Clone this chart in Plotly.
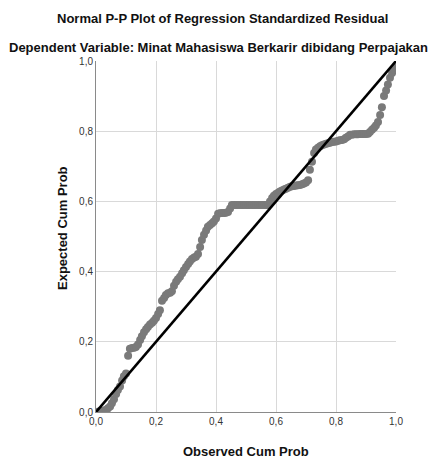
import plotly.graph_objects as go

# Observed cumulative probability (x) and expected cumulative probability (y)
observed_cum_prob = [
    0.007, 0.013, 0.020, 0.027, 0.033, 0.040, 0.047, 0.053, 0.060, 0.067,
    0.073, 0.080, 0.087, 0.093, 0.100, 0.107, 0.113, 0.120, 0.127, 0.133,
    0.140, 0.147, 0.153, 0.160, 0.167, 0.173, 0.180, 0.187, 0.193, 0.200,
    0.207, 0.213, 0.220, 0.227, 0.233, 0.240, 0.247, 0.253, 0.260, 0.267,
    0.273, 0.280, 0.287, 0.293, 0.300, 0.307, 0.313, 0.320, 0.327, 0.333,
    0.340, 0.347, 0.353, 0.360, 0.367, 0.373, 0.380, 0.387, 0.393, 0.400,
    0.407, 0.413, 0.420, 0.427, 0.433, 0.440, 0.447, 0.453, 0.460, 0.467,
    0.473, 0.480, 0.487, 0.493, 0.500, 0.507, 0.513, 0.520, 0.527, 0.533,
    0.540, 0.547, 0.553, 0.560, 0.567, 0.573, 0.580, 0.587, 0.593, 0.600,
    0.607, 0.613, 0.620, 0.627, 0.633, 0.640, 0.647, 0.653, 0.660, 0.667,
    0.673, 0.680, 0.687, 0.693, 0.700, 0.707, 0.713, 0.720, 0.727, 0.733,
    0.740, 0.747, 0.753, 0.760, 0.767, 0.773, 0.780, 0.787, 0.793, 0.800,
    0.807, 0.813, 0.820, 0.827, 0.833, 0.840, 0.847, 0.853, 0.860, 0.867,
    0.873, 0.880, 0.887, 0.893, 0.900, 0.907, 0.913, 0.920, 0.927, 0.933,
    0.940, 0.947, 0.953, 0.960, 0.967, 0.973, 0.980, 0.987, 0.993, 1.000,
]
expected_cum_prob = [
    0.001, 0.002, 0.003, 0.004, 0.006, 0.011, 0.016, 0.025, 0.036, 0.051,
    0.063, 0.073, 0.090, 0.102, 0.110, 0.160, 0.180, 0.182, 0.183, 0.185,
    0.192, 0.205, 0.216, 0.227, 0.236, 0.242, 0.249, 0.254, 0.260, 0.268,
    0.279, 0.290, 0.317, 0.325, 0.333, 0.338, 0.340, 0.344, 0.360, 0.371,
    0.378, 0.385, 0.395, 0.404, 0.413, 0.422, 0.429, 0.436, 0.440, 0.442,
    0.450, 0.470, 0.490, 0.505, 0.517, 0.528, 0.533, 0.538, 0.543, 0.551,
    0.565, 0.566, 0.567, 0.567, 0.568, 0.570, 0.580, 0.590, 0.590, 0.590,
    0.590, 0.590, 0.590, 0.590, 0.590, 0.590, 0.590, 0.590, 0.590, 0.590,
    0.590, 0.590, 0.590, 0.590, 0.590, 0.590, 0.600, 0.610, 0.616, 0.621,
    0.625, 0.628, 0.631, 0.634, 0.636, 0.639, 0.642, 0.643, 0.644, 0.645,
    0.646, 0.647, 0.649, 0.651, 0.654, 0.660, 0.690, 0.713, 0.738, 0.748,
    0.753, 0.757, 0.760, 0.762, 0.764, 0.766, 0.767, 0.769, 0.770, 0.771,
    0.773, 0.774, 0.775, 0.777, 0.781, 0.785, 0.790, 0.790, 0.791, 0.791,
    0.791, 0.792, 0.792, 0.792, 0.792, 0.793, 0.798, 0.804, 0.810, 0.816,
    0.826, 0.846, 0.868, 0.900, 0.916, 0.933, 0.952, 0.966, 0.975, 0.982,
]
reference_line = [0.0, 1.0]
tick_values = [0.0, 0.2, 0.4, 0.6, 0.8, 1.0]

FONT = "Liberation Sans, Arial, sans-serif"

fig = go.Figure()
fig.add_trace(go.Scatter(
    x=observed_cum_prob, y=expected_cum_prob, mode="markers",
    marker=dict(color="#7a7a7a", size=8, line=dict(width=0)),
    showlegend=False, hoverinfo="skip",
))
fig.add_trace(go.Scatter(
    x=reference_line, y=reference_line, mode="lines",
    line=dict(color="#000000", width=2.6),
    showlegend=False, hoverinfo="skip",
))

axis_common = dict(
    range=[0, 1], tickvals=tick_values, tickformat=".1f",
    showgrid=True, gridcolor="#d9d9d9", gridwidth=1,
    zeroline=False, showline=True, linecolor="#8a8a8a", linewidth=1,
    ticks="", tickfont=dict(family=FONT, size=10, color="#333333"),
    fixedrange=True,
)

fig.update_layout(
    width=432, height=462,
    margin=dict(l=96, r=36, t=61, b=50),
    paper_bgcolor="white", plot_bgcolor="white",
    separators=",.",
    xaxis=dict(**axis_common),
    yaxis=dict(**axis_common),
    annotations=[
        dict(text="<b>Normal P-P Plot of Regression Standardized Residual</b>",
             xref="paper", yref="paper", x=(222 - 96) / 300, y=1 + (61 - 19) / 351,
             xanchor="center", yanchor="middle", showarrow=False,
             font=dict(family=FONT, size=13, color="#111111")),
        dict(text="<b>Dependent Variable: Minat Mahasiswa Berkarir dibidang Perpajakan</b>",
             xref="paper", yref="paper", x=(218 - 96) / 300, y=1 + (61 - 47) / 351,
             xanchor="center", yanchor="middle", showarrow=False,
             font=dict(family=FONT, size=13, color="#111111")),
        dict(text="<b>Expected Cum Prob</b>",
             xref="paper", yref="paper", x=(62 - 96) / 300, y=(412 - 228) / 351,
             xanchor="center", yanchor="middle", textangle=-90, showarrow=False,
             font=dict(family=FONT, size=13, color="#111111")),
        dict(text="<b>Observed Cum Prob</b>",
             xref="paper", yref="paper", x=(246 - 96) / 300, y=-(451 - 412) / 351,
             xanchor="center", yanchor="middle", showarrow=False,
             font=dict(family=FONT, size=13, color="#111111")),
    ],
)

fig.write_html(
    "out.html",
    config={"displayModeBar": False},
    post_script="document.body.style.margin='0';document.body.style.padding='0';",
)
